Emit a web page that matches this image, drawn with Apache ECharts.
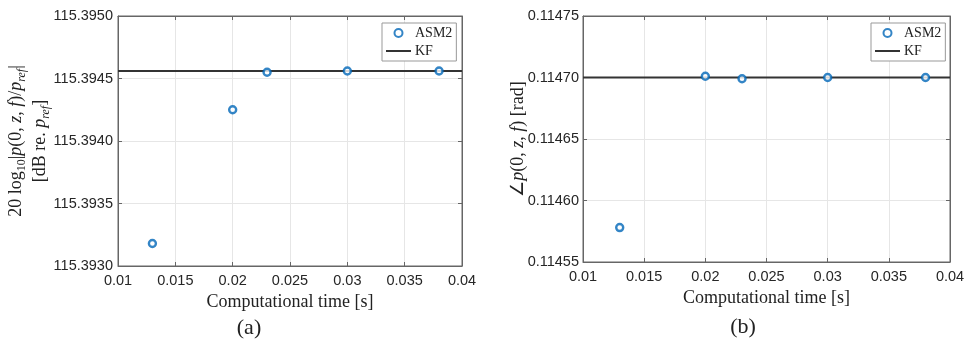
<!DOCTYPE html>
<html>
<head>
<meta charset="utf-8">
<script src="https://cdn.jsdelivr.net/npm/echarts@6/dist/echarts.min.js"></script>
<style>
    html, body { margin: 0; padding: 0; background: #fff; }
    #main { width: 969px; height: 340px; }
</style>
</head>
<body>
<div id="main"></div>
<script>
// data
var timeX = [0.013, 0.02, 0.023, 0.03, 0.038];
var levelASM2 = [115.39318, 115.39425, 115.39455, 115.39456, 115.39456];
var levelKF = 115.39456;
var phaseASM2 = [0.114578, 0.114701, 0.114699, 0.114700, 0.114700];
var phaseKF = 0.11470;
var xRange = [0.01, 0.04];
var levelRange = [115.3930, 115.3950];
var phaseRange = [0.11455, 0.11475];

var blue = '#0066B8';
var tickFont = 'Liberation Sans';
var serif = 'Liberation Serif';

function pairs(xs, ys) {
    return xs.map(function (x, i) { return [x, ys[i]]; });
}

var myChart = echarts.init(document.getElementById('main'));

var xCommon = {
    type: 'value',
    min: xRange[0],
    max: xRange[1],
    interval: 0.005,
    axisLine: { lineStyle: { color: '#666' } },
    axisTick: { inside: true, length: 4, lineStyle: { color: '#666' } },
    splitLine: { lineStyle: { color: '#e6e6e6' } },
    axisLabel: {
        color: '#262626',
        fontFamily: tickFont,
        fontSize: 14.5,
        margin: 7,
        formatter: function (v) { return String(parseFloat(v.toFixed(3))); }
    },
    name: 'Computational time [s]',
    nameLocation: 'middle',
    nameTextStyle: { fontFamily: serif, fontSize: 18, color: '#222' }
};

function mirrorX(idx) {
    return {
        type: 'value', gridIndex: idx, position: 'top',
        min: xRange[0], max: xRange[1], interval: 0.005,
        axisLine: { lineStyle: { color: '#666' } },
        axisTick: { inside: true, length: 4, lineStyle: { color: '#666' } },
        axisLabel: { show: false }, splitLine: { show: false }
    };
}

function mirrorY(idx, range, step) {
    return {
        type: 'value', gridIndex: idx, position: 'right',
        min: range[0], max: range[1], interval: step,
        axisLine: { show: true, lineStyle: { color: '#666' } },
        axisTick: { show: true, inside: true, length: 4, lineStyle: { color: '#666' } },
        axisLabel: { show: false }, splitLine: { show: false }
    };
}

var nameRich = {
    n: { fontFamily: serif, fontSize: 18, lineHeight: 24, color: '#222' },
    i: { fontFamily: serif, fontSize: 18, lineHeight: 24, fontStyle: 'italic', color: '#222' },
    s: { fontFamily: serif, fontSize: 12, lineHeight: 12, verticalAlign: 'bottom', color: '#222' },
    si: { fontFamily: serif, fontSize: 12, lineHeight: 12, verticalAlign: 'bottom', fontStyle: 'italic', color: '#222' }
};

var legendCommon = {
    orient: 'vertical',
    top: 23,
    padding: [3, 4, 3, 3],
    itemWidth: 25,
    itemHeight: 8,
    itemGap: 4,
    borderColor: '#999',
    borderWidth: 1,
    backgroundColor: '#fff',
    textStyle: { fontFamily: serif, fontSize: 14, color: '#222', padding: [0, 0, 0, -1] },
    data: [
        { name: 'ASM2' },
        { name: 'KF', itemStyle: { opacity: 0 } }
    ]
};

var option = {
    animation: false,
    backgroundColor: '#fff',
    title: [
        { text: '(a)', left: 244, top: 312, textAlign: 'center',
          textStyle: { fontFamily: serif, fontSize: 22, fontWeight: 'normal', color: '#222' } },
        { text: '(b)', left: 738, top: 311, textAlign: 'center',
          textStyle: { fontFamily: serif, fontSize: 22, fontWeight: 'normal', color: '#222' } }
    ],
    grid: [
        { left: 118, top: 16, width: 344, height: 250, show: true, borderColor: '#666', borderWidth: 1 },
        { left: 583, top: 16, width: 367, height: 246, show: true, borderColor: '#666', borderWidth: 1 }
    ],
    legend: [
        Object.assign({}, legendCommon, { left: 382 }),
        Object.assign({}, legendCommon, { left: 871 })
    ],
    xAxis: [
        Object.assign({}, xCommon, { gridIndex: 0, nameGap: 25 }),
        Object.assign({}, xCommon, { gridIndex: 1, nameGap: 24 }),
        mirrorX(0),
        mirrorX(1)
    ],
    yAxis: [
        {
            type: 'value', gridIndex: 0,
            min: levelRange[0], max: levelRange[1], interval: 0.0005,
            axisLine: { show: true, lineStyle: { color: '#666' } },
            axisTick: { show: true, inside: true, length: 4, lineStyle: { color: '#666' } },
            splitLine: { lineStyle: { color: '#e6e6e6' } },
            axisLabel: {
                color: '#262626', fontFamily: tickFont, fontSize: 14.5, margin: 5,
                formatter: function (v) { return v.toFixed(4); }
            },
            name: '{n|20 log}{s|10}{n||}{i|p}{n|(0, }{i|z}{n|, }{i|f}{n|)/}{i|p}{si|ref}{n||}\n' +
                  '{n|[dB re. }{i|p}{si|ref}{n|]}',
            nameLocation: 'middle',
            nameRotate: 90,
            nameGap: 66,
            nameMoveOverlap: false,
            nameTextStyle: { rich: nameRich, lineHeight: 24 }
        },
        {
            type: 'value', gridIndex: 1,
            min: phaseRange[0], max: phaseRange[1], interval: 0.00005,
            axisLine: { show: true, lineStyle: { color: '#666' } },
            axisTick: { show: true, inside: true, length: 4, lineStyle: { color: '#666' } },
            splitLine: { lineStyle: { color: '#e6e6e6' } },
            axisLabel: {
                color: '#262626', fontFamily: tickFont, fontSize: 14.5, margin: 4,
                formatter: function (v) { return v.toFixed(5); }
            },
            name: '{n|\u2220}{i|p}{n|(0, }{i|z}{n|, }{i|f}{n|) [rad]}',
            nameLocation: 'middle',
            nameRotate: 90,
            nameGap: 53,
            nameMoveOverlap: false,
            nameTextStyle: { rich: nameRich }
        },
        mirrorY(0, levelRange, 0.0005),
        mirrorY(1, phaseRange, 0.00005)
    ],
    series: [
        {
            name: 'KF', type: 'line', xAxisIndex: 0, yAxisIndex: 0,
            symbol: 'none', z: 2,
            lineStyle: { color: '#333', width: 2 },
            itemStyle: { color: '#333' },
            data: [[xRange[0], levelKF], [xRange[1], levelKF]]
        },
        {
            name: 'ASM2', type: 'scatter', xAxisIndex: 0, yAxisIndex: 0,
            symbol: 'circle', symbolSize: 7, z: 3,
            itemStyle: { color: '#fff', borderColor: blue, borderWidth: 2.4 },
            data: pairs(timeX, levelASM2)
        },
        {
            name: 'KF', type: 'line', xAxisIndex: 1, yAxisIndex: 1,
            symbol: 'none', z: 2,
            lineStyle: { color: '#333', width: 2 },
            itemStyle: { color: '#333' },
            data: [[xRange[0], phaseKF], [xRange[1], phaseKF]]
        },
        {
            name: 'ASM2', type: 'scatter', xAxisIndex: 1, yAxisIndex: 1,
            symbol: 'circle', symbolSize: 7, z: 3,
            itemStyle: { color: '#fff', borderColor: blue, borderWidth: 2.4 },
            data: pairs(timeX, phaseASM2)
        }
    ]
};
myChart.setOption(option);
</script>
</body>
</html>
